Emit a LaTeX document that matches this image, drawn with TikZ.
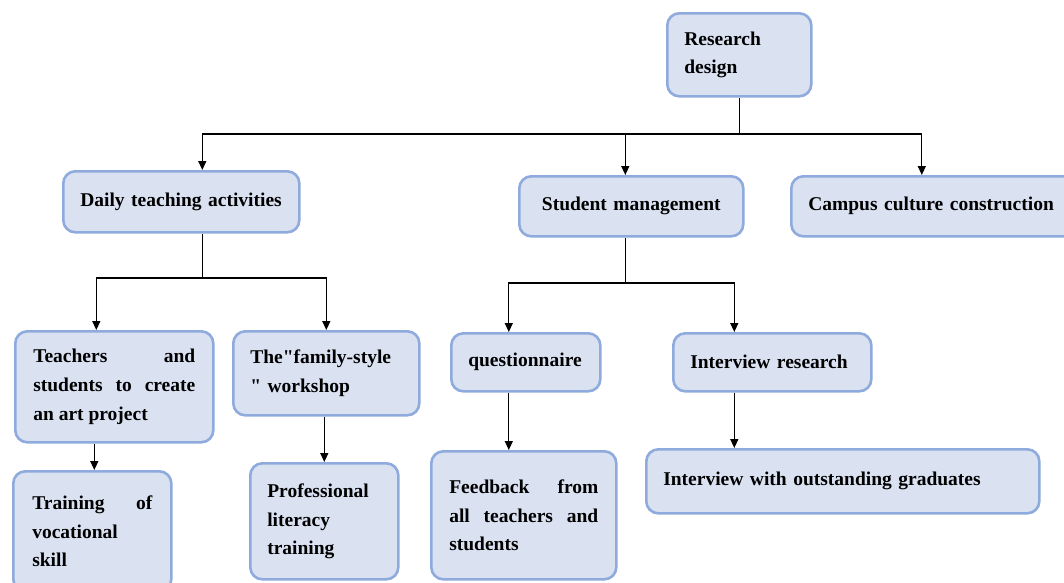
\documentclass[tikz,border=0pt]{standalone}
\usepackage{fontspec}
\setmainfont{Liberation Serif}
\usepackage{tikz}
\usetikzlibrary{arrows.meta,positioning}
\definecolor{boxfill}{RGB}{218,226,242}
\definecolor{boxline}{RGB}{143,170,220}
\tikzset{
  box/.style ={draw=boxline,fill=boxfill,line width=2.6pt,rounded corners=12pt,
               anchor=north west,inner xsep=17pt,inner ysep=0pt,align=left,
               font=\bfseries\fontsize{19.5}{28.5}\selectfont},
  jbox/.style={box,align=justify},
  ln/.style  ={draw,line width=1.3pt},
  arr/.style ={ln,-{Triangle[length=9pt,width=8pt]}},
}

\begin{document}
\begin{tikzpicture}[x=1pt,y=-1pt]
  \useasboundingbox (0,0) rectangle (1064,582);
  \node[box,text width=110pt,minimum height=83pt] (rd)  at (666,12)  {Research\\design};
  \node[box,text width=202pt,minimum height=61pt] (dta) at (62,170)  {Daily teaching activities};
  \node[box,align=center,text width=190pt,minimum height=60pt] (sm) at (518,175) {Student management};
  \node[box,text width=251pt,minimum height=60pt] (ccc) at (790,175) {Campus culture construction};
  \node[jbox,text width=162pt,minimum height=111pt,inner xsep=18pt] (tas) at (14,330)
    {Teachers and\linebreak students to create\linebreak an art project};
  \node[box,text width=152pt,minimum height=84pt] (fam) at (232,330)
    {The\textquotedbl family-style\\\textquotedbl\ workshop};
  \node[box,text width=115pt,minimum height=58pt] (q)   at (450,332) {questionnaire};
  \node[box,text width=164pt,minimum height=58pt] (ir)  at (672,332) {Interview research};
  \node[jbox,text width=120pt,minimum height=120pt,inner xsep=19pt] (tvs) at (12,470)
    {Training of\linebreak vocational\linebreak skill};
  \node[box,text width=114pt,minimum height=116pt] (plt) at (249,462) {Professional\\literacy\\training};
  \node[jbox,text width=149pt,minimum height=128pt,inner xsep=18pt] (fb) at (430,450)
    {Feedback from\linebreak all teachers and\linebreak students};
  \node[box,text width=359pt,minimum height=64pt] (iog) at (645,448) {Interview with outstanding graduates};

  \draw[ln] (rd.south) -- (rd.south |- 0,134) coordinate (j1);
  \draw[arr] (j1) -| ([xshift=21pt]dta.north);
  \draw[arr] (j1) -| ([xshift=-6pt]sm.north);
  \draw[arr] (j1) -| ([xshift=-12pt]ccc.north);

  \draw[ln] ([xshift=21pt]dta.south) -- ([xshift=21pt]dta.south |- 0,278) coordinate (j2);
  \draw[arr] (j2) -| ([xshift=-18pt]tas.north);
  \draw[arr] (j2) -| (fam.north);

  \draw[ln] ([xshift=-6pt]sm.south) -- ([xshift=-6pt]sm.south |- 0,283) coordinate (j3);
  \draw[arr] (j3) -| ([xshift=-17pt]q.north);
  \draw[arr] (j3) -| ([xshift=-38pt]ir.north);

  \draw[arr] ([xshift=-20pt]tas.south) -- ([xshift=-20pt]tas.south |- tvs.north);
  \draw[arr] ([xshift=-2pt]fam.south) -- ([xshift=-2pt]fam.south |- plt.north);
  \draw[arr] ([xshift=-17pt]q.south) -- ([xshift=-17pt]q.south |- fb.north);
  \draw[arr] ([xshift=-38pt]ir.south) -- ([xshift=-38pt]ir.south |- iog.north);
\end{tikzpicture}
\end{document}
